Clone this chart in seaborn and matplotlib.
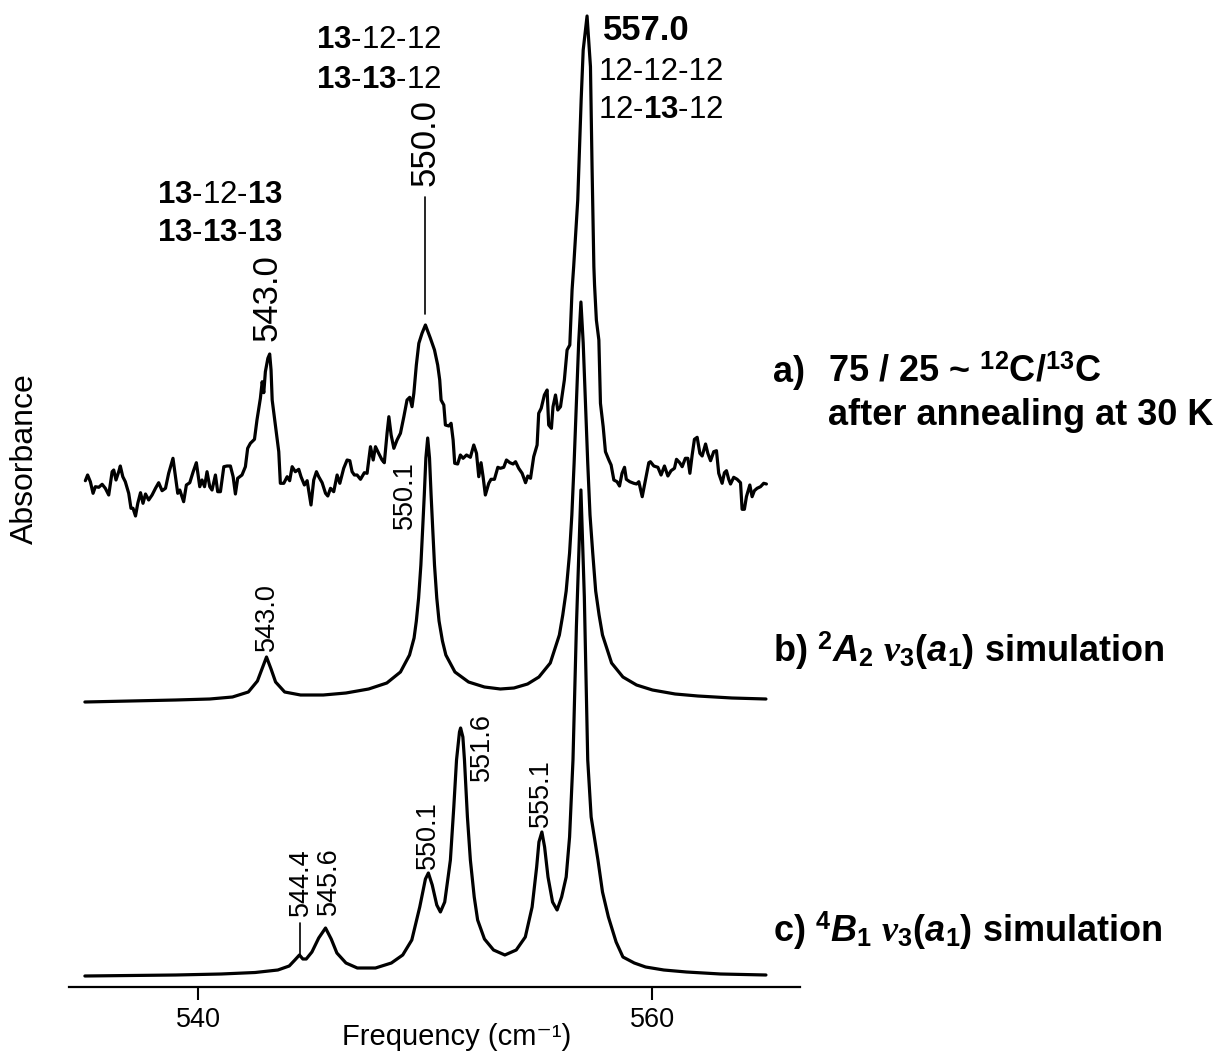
import matplotlib
matplotlib.use("Agg")
import matplotlib.pyplot as plt
import seaborn as sns
import pandas as pd

# ---------------- data ----------------
# a) experimental spectrum (frequency cm-1, absorbance in arbitrary units)
a_freq = [535.02, 535.12, 535.24, 535.36, 535.46, 535.61, 535.76, 535.90, 536.05, 536.20,
          536.27, 536.37, 536.49, 536.56, 536.67, 536.78, 536.93, 537.03, 537.12, 537.23,
          537.33, 537.45, 537.56, 537.67, 537.81, 537.96, 538.11, 538.25, 538.40, 538.55,
          538.69, 538.88, 538.99, 539.09, 539.18, 539.35, 539.47, 539.62, 539.77, 539.91,
          540.06, 540.16, 540.27, 540.38, 540.50, 540.60, 540.75, 540.85, 540.97, 541.12,
          541.26, 541.41, 541.53, 541.63, 541.73, 541.92, 542.07, 542.17, 542.29, 542.47,
          542.58, 542.73, 542.81, 542.88, 542.95, 543.06, 543.14, 543.20, 543.25, 543.39,
          543.54, 543.61, 543.76, 543.91, 544.02, 544.13, 544.27, 544.42, 544.52, 544.67,
          544.79, 544.96, 545.08, 545.20, 545.30, 545.45, 545.60, 545.70, 545.82, 545.96,
          546.11, 546.23, 546.40, 546.55, 546.67, 546.77, 546.87, 546.99, 547.14, 547.31,
          547.43, 547.58, 547.70, 547.80, 547.94, 548.09, 548.19, 548.31, 548.39, 548.49,
          548.61, 548.75, 548.90, 549.05, 549.19, 549.31, 549.41, 549.49, 549.60, 549.71,
          549.85, 550.00, 550.22, 550.40, 550.54, 550.63, 550.69, 550.81, 550.88, 551.03,
          551.13, 551.22, 551.29, 551.42, 551.54, 551.66, 551.81, 551.98, 552.13, 552.25,
          552.35, 552.45, 552.54, 552.64, 552.79, 552.89, 553.04, 553.19, 553.30, 553.45,
          553.57, 553.72, 553.86, 553.97, 554.11, 554.26, 554.41, 554.51, 554.63, 554.77,
          554.92, 554.99, 555.10, 555.24, 555.36, 555.43, 555.55, 555.62, 555.73, 555.83,
          555.95, 556.12, 556.24, 556.36, 556.46, 556.53, 556.71, 556.86, 556.95, 557.12,
          557.27, 557.34, 557.42, 557.45, 557.53, 557.64, 557.71, 557.83, 557.93, 558.08,
          558.18, 558.30, 558.44, 558.55, 558.66, 558.77, 558.85, 559.00, 559.18, 559.30,
          559.40, 559.55, 559.69, 559.84, 559.91, 560.06, 560.24, 560.38, 560.53, 560.68,
          560.82, 560.97, 561.06, 561.20, 561.31, 561.45, 561.56, 561.65, 561.75, 561.85,
          561.97, 562.09, 562.19, 562.34, 562.44, 562.56, 562.70, 562.82, 562.92, 563.07,
          563.17, 563.26, 563.36, 563.44, 563.58, 563.73, 563.88, 563.95, 564.05, 564.14,
          564.29, 564.39, 564.49, 564.61, 564.76, 564.90, 565.02]
a_abs = [19.3, 25.0, 18.3, 6.7, 13.3, 12.7, 15.7, 11.7, 5.0, 28.3,
         30.0, 20.0, 28.3, 34.0, 23.3, 18.3, 6.7, -8.3, -8.3, -16.0,
         -3.3, 7.3, -3.3, 6.0, 0.0, 5.0, 11.7, 17.3, 9.3, 11.7,
         26.7, 41.7, 23.3, 6.7, 10.0, -1.7, 15.0, 17.3, 28.3, 37.3,
         13.3, 20.0, 13.3, 28.3, 13.3, 10.0, 25.0, 8.3, 8.3, 33.3,
         34.0, 34.0, 23.3, 6.0, 21.7, 25.0, 33.3, 51.7, 56.7, 60.7,
         80.0, 101.7, 118.3, 107.3, 128.3, 141.7, 146.0, 130.0, 100.0, 75.0,
         48.3, 16.7, 16.7, 23.3, 19.3, 33.3, 28.3, 30.7, 23.3, 15.0,
         19.3, -5.0, 20.0, 28.3, 23.3, 17.3, 6.7, 4.0, 11.7, 8.3,
         25.0, 16.7, 31.7, 40.0, 39.3, 28.3, 25.0, 25.0, 20.7, 27.3,
         26.7, 53.3, 40.0, 53.3, 46.7, 40.0, 37.3, 66.7, 83.3, 65.0,
         51.7, 60.0, 66.7, 83.3, 100.0, 102.7, 93.3, 106.7, 135.0, 156.7,
         166.7, 175.0, 161.7, 150.0, 135.0, 120.0, 100.0, 95.0, 75.0, 74.0,
         76.7, 60.0, 36.7, 36.0, 45.0, 41.7, 45.0, 42.7, 55.0, 46.7,
         23.3, 37.3, 23.3, 5.0, 16.7, 20.7, 20.7, 32.7, 31.7, 32.7,
         40.0, 37.3, 36.0, 38.3, 31.7, 26.7, 17.3, 24.0, 21.7, 43.3,
         55.0, 86.7, 91.7, 105.0, 110.0, 75.0, 71.7, 93.3, 105.0, 90.0,
         93.3, 120.0, 150.0, 155.0, 210.0, 233.3, 300.0, 400.0, 450.0, 484.0,
         433.3, 333.3, 233.3, 215.0, 180.0, 160.0, 96.7, 73.3, 48.3, 40.0,
         35.0, 20.0, 18.3, 14.0, 26.7, 32.7, 20.7, 18.3, 16.7, 16.0,
         18.3, 3.3, 20.0, 37.3, 38.3, 34.0, 32.7, 25.0, 34.0, 24.0,
         29.3, 31.7, 40.7, 37.3, 33.3, 41.7, 41.7, 26.7, 45.0, 60.7,
         62.7, 46.7, 44.0, 56.0, 46.7, 39.3, 48.3, 49.3, 26.7, 16.7,
         27.3, 29.3, 20.7, 16.0, 22.7, 20.7, 17.3, -9.3, -9.3, 3.3,
         15.0, 3.3, 9.3, 11.7, 13.3, 16.7, 16.0]

# b) 2A2 simulation
b_freq = [535.0, 537.0, 539.0, 540.5, 541.5, 542.2, 542.6, 542.8, 543.0, 543.2,
          543.4, 543.8, 544.5, 545.5, 546.5, 547.5, 548.3, 548.9, 549.3, 549.5,
          549.6, 549.7, 549.8, 549.88, 549.95, 550.02, 550.1, 550.18, 550.25, 550.32,
          550.4, 550.5, 550.6, 550.75, 550.9, 551.3, 551.9, 552.6, 553.3, 553.9,
          554.5, 555.0, 555.5, 555.9, 556.05, 556.2, 556.35, 556.45, 556.55, 556.65,
          556.75, 556.85, 556.95, 557.05, 557.15, 557.25, 557.37, 557.5, 557.65, 557.8,
          558.2, 558.7, 559.3, 560.0, 561.0, 562.0, 563.5, 565.0]
b_abs = [1, 2, 3, 4, 6, 11, 22, 34, 46, 34,
         21, 11, 8, 8, 10, 14, 20, 31, 48, 65,
         82, 105, 138, 175, 208, 245, 265, 245, 208, 175,
         138, 105, 82, 62, 48, 31, 21, 16, 14, 15,
         19, 26, 40, 68, 88, 112, 150, 188, 240, 300,
         360, 401, 360, 300, 240, 188, 150, 112, 88, 68,
         40, 26, 18, 13, 9, 7, 5, 4]

# c) 4B1 simulation
c_freq = [535.0, 537.0, 539.0, 541.0, 542.5, 543.5, 544.0, 544.25, 544.45, 544.6,
          544.75, 545.0, 545.3, 545.6, 545.85, 546.1, 546.5, 547.0, 547.8, 548.5,
          549.0, 549.4, 549.75, 550.0, 550.13, 550.3, 550.5, 550.66, 550.85, 551.0,
          551.1, 551.25, 551.37, 551.5, 551.55, 551.65, 551.72, 551.85, 551.98, 552.15,
          552.3, 552.6, 553.0, 553.5, 554.0, 554.4, 554.7, 554.9, 555.0, 555.13,
          555.25, 555.4, 555.6, 555.8, 556.0, 556.2, 556.35, 556.5, 556.65, 556.85,
          557.0, 557.15, 557.3, 557.6, 557.8, 558.06, 558.4, 558.7, 559.2, 559.7,
          560.5, 561.5, 563.0, 565.0]
c_abs = [1, 1.5, 2, 3, 4.5, 7, 11, 17, 22, 18,
         18, 25, 39, 49, 38, 24, 14, 9, 9, 14,
         22, 37, 70, 98, 104, 92, 72, 65, 75, 100,
         117, 170, 217, 245, 249, 240, 217, 160, 117, 80,
         57, 38, 27, 22, 27, 40, 70, 110, 135, 145,
         130, 100, 75, 67, 80, 100, 140, 217, 350, 487,
         380, 217, 160, 117, 85, 60, 35, 20, 14, 10,
         7, 5, 3, 2]

x_ticks = [540, 560]
x_ticklabels = ["540", "560"]

# ---------------- style ----------------
sns.set_style("white")
plt.rcParams["font.family"] = ["Liberation Sans", "DejaVu Sans"]
plt.rcParams["text.color"] = "black"
plt.rcParams["axes.labelcolor"] = "black"
plt.rcParams["xtick.color"] = "black"
plt.rcParams["mathtext.fontset"] = "custom"
plt.rcParams["mathtext.rm"] = "Liberation Sans"
plt.rcParams["mathtext.bf"] = "Liberation Sans:bold"
plt.rcParams["mathtext.it"] = "Liberation Serif:bold:italic"
plt.rcParams["mathtext.bfit"] = "Liberation Sans:bold:italic"

W, H = 1221, 1051
fig = plt.figure(figsize=(W / 100, H / 100), dpi=100)
ax = fig.add_axes([69 / W, 64 / H, 731 / W, 987 / H])

offsets = {"a": 487, "b": 284, "c": 10}
frames = []
for key, fr, ab in (("a", a_freq, a_abs), ("b", b_freq, b_abs), ("c", c_freq, c_abs)):
    df = pd.DataFrame({"freq": fr, "abs": [v + offsets[key] for v in ab]})
    df["spec"] = key
    frames.append(df)
data = pd.concat(frames, ignore_index=True)

for key in ("a", "b", "c"):
    sns.lineplot(data=data[data["spec"] == key], x="freq", y="abs", ax=ax,
                 color="black", linewidth=2.3, estimator=None, sort=False,
                 legend=False)

ax.set_xlim(534.3, 566.5)
ax.set_ylim(0, 987)
for s in ("left", "right", "top"):
    ax.spines[s].set_visible(False)
ax.spines["bottom"].set_linewidth(1.6)
ax.spines["bottom"].set_color("black")
ax.set_yticks([])
ax.set_xticks(x_ticks)
ax.set_xticklabels(x_ticklabels)
ax.tick_params(axis="x", direction="out", length=9.5, width=1.5, labelsize=19.5,
               pad=5, bottom=True, colors="black")
ax.set_xlabel("")
ax.set_ylabel("")

fig.text(457 / W, (H - 1045) / H, "Frequency (cm\u207b\u00b9)", fontsize=21,
         ha="center", va="baseline", color="black")
fig.text(25 / W, 1 - 459 / H, "Absorbance", fontsize=23, rotation=90,
         ha="center", va="center", color="black")

# ---- annotations for a) ----
big = 25
lab = 22.5
ax.text(543.04, 689, "543.0", rotation=90, fontsize=big, ha="center", va="center")
ax.text(540.97, 792, r"$\mathbf{13}$-12-$\mathbf{13}$", fontsize=lab, ha="center", va="center")
ax.text(540.97, 754, r"$\mathbf{13}$-$\mathbf{13}$-$\mathbf{13}$", fontsize=lab, ha="center", va="center")
ax.text(550.0, 845, "550.0", rotation=90, fontsize=big, ha="center", va="center")
ax.plot([550.0, 550.0], [673, 790], color="black", linewidth=1.2)
ax.text(547.93, 947, r"$\mathbf{13}$-12-12", fontsize=lab, ha="center", va="center")
ax.text(547.93, 907, r"$\mathbf{13}$-$\mathbf{13}$-12", fontsize=lab, ha="center", va="center")
ax.text(557.84, 957, "557.0", fontsize=big, fontweight="bold", ha="left", va="center")
ax.text(557.62, 915, "12-12-12", fontsize=lab, ha="left", va="center")
ax.text(557.62, 877, r"12-$\mathbf{13}$-12", fontsize=lab, ha="left", va="center")

# ---- annotations for b) ----
small = 19.5
ax.text(543.0, 370, "543.0", rotation=90, fontsize=small, ha="center", va="center")
ax.text(549.12, 492, "550.1", rotation=90, fontsize=small, ha="center", va="center")

# ---- annotations for c) ----
ax.text(544.5, 105, "544.4", rotation=90, fontsize=small, ha="center", va="center")
ax.plot([544.47, 544.47], [32, 64], color="black", linewidth=1.2)
ax.text(545.77, 106, "545.6", rotation=90, fontsize=small, ha="center", va="center")
ax.text(550.13, 152, "550.1", rotation=90, fontsize=small, ha="center", va="center")
ax.text(552.51, 240, "551.6", rotation=90, fontsize=small, ha="center", va="center")
ax.text(555.11, 194, "555.1", rotation=90, fontsize=small, ha="center", va="center")

# ---- spectrum labels on the right ----
rl = 26
ax.text(565.33, 605, "a)", fontsize=rl, fontweight="bold", ha="left", va="baseline")
ax.text(567.75, 605, r"75 / 25 ~ $^{\mathbf{12}}$C/$^{\mathbf{13}}$C", fontsize=rl,
        fontweight="bold", ha="left", va="baseline")
ax.text(567.75, 562, "after annealing at 30 K", fontsize=rl, fontweight="bold",
        ha="left", va="baseline")
ax.text(565.29, 325,
        r"b) $^{\mathbf{2}}\mathbfit{A}_{\mathbf{2}}$ $\nu_{\mathbf{3}}$($\mathbfit{a}_{\mathbf{1}}$) simulation",
        fontsize=rl, fontweight="bold", ha="left", va="baseline")
ax.text(565.29, 45,
        r"c) $^{\mathbf{4}}\mathbfit{B}_{\mathbf{1}}$ $\nu_{\mathbf{3}}$($\mathbfit{a}_{\mathbf{1}}$) simulation",
        fontsize=rl, fontweight="bold", ha="left", va="baseline")

fig.savefig("out.png", dpi=100)
